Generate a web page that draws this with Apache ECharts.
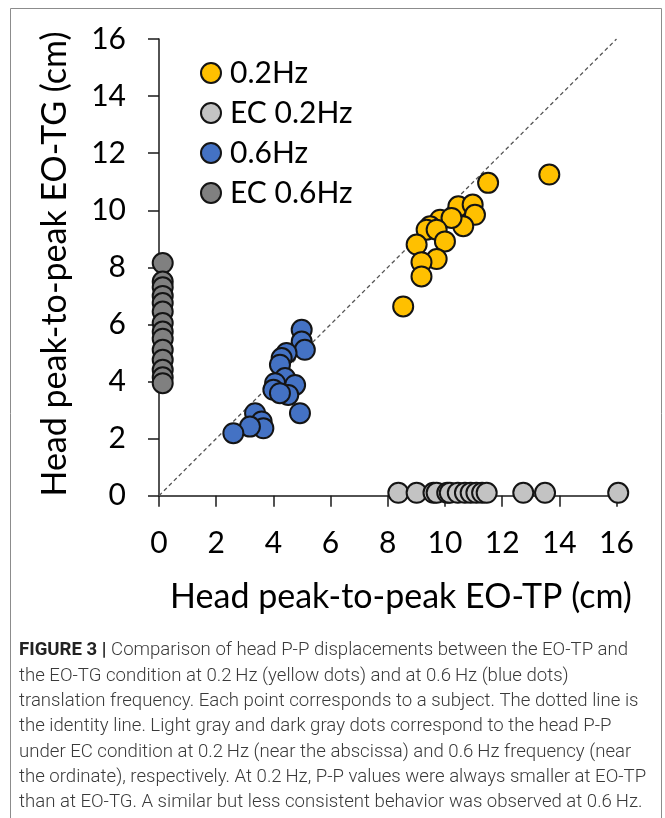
<!DOCTYPE html>
<html>
<head>
<meta charset="utf-8">
<title>Head P-P displacement: EO-TP vs EO-TG</title>
<script src="https://cdn.jsdelivr.net/npm/echarts@6/dist/echarts.min.js"></script>
<style>
  html, body { margin: 0; padding: 0; background: #fff; }
  #chart { width: 665px; height: 818px; }
</style>
</head>
<body>
<div id="chart"></div>
<script>
// Head peak-to-peak displacement (cm), one point per subject
const tp02 = [13.65, 11.51, 10.47, 10.97, 11.05, 10.64, 9.83, 10.23, 9.48, 9.36, 9.71, 10.0, 9.01, 9.71, 9.18, 9.18, 8.54];
const tg02 = [11.25, 10.96, 10.14, 10.2, 9.84, 9.44, 9.67, 9.73, 9.44, 9.32, 9.32, 8.91, 8.8, 8.29, 8.18, 7.68, 6.63];

const tp06 = [4.99, 4.99, 5.1, 4.46, 4.29, 4.23, 4.41, 4.06, 4.0, 4.76, 4.52, 4.23, 4.93, 3.36, 3.59, 3.65, 3.18, 2.6];
const tg06 = [5.81, 5.40, 5.11, 5.0, 4.82, 4.59, 4.12, 3.94, 3.71, 3.88, 3.53, 3.59, 2.89, 2.89, 2.6, 2.36, 2.42, 2.19];

// eyes-closed trials: 0.2 Hz plotted along the abscissa, 0.6 Hz along the ordinate
const ec02 = [8.37, 9.01, 9.6, 9.71, 10.08, 10.17, 10.45, 10.7, 10.9, 11.1, 11.3, 11.46, 12.74, 13.5, 16.06];
const ec02Level = 0.1;
const ec06 = [8.15, 7.5, 7.3, 7.0, 6.75, 6.45, 6.05, 5.75, 5.5, 5.11, 4.76, 4.41, 4.15, 3.94];
const ec06Level = 0.13;

const identity = [[0, 0], [16, 16]];
const seriesNames = ['0.2Hz', 'EC 0.2Hz', '0.6Hz', 'EC 0.6Hz'];
const axisTicks = [0, 2, 4, 6, 8, 10, 12, 14, 16];

const xTitle = 'Head peak-to-peak EO-TP (cm)';
const yTitle = 'Head peak-to-peak EO-TG (cm)';
const captionLines = [
  '{b|FIGURE 3 |} Comparison of head P-P displacements between the EO-TP and',
  'the EO-TG condition at 0.2\u2009Hz (yellow dots) and at 0.6\u2009Hz (blue dots)',
  'translation frequency. Each point corresponds to a subject. The dotted line is',
  'the identity line. Light gray and dark gray dots correspond to the head P-P',
  'under EC condition at 0.2\u2009Hz (near the abscissa) and 0.6\u2009Hz frequency (near',
  'the ordinate), respectively. At 0.2\u2009Hz, P-P values were always smaller at EO-TP',
  'than at EO-TG. A similar but less consistent behavior was observed at 0.6\u2009Hz.'
];

const zip = (xs, ys) => xs.map((x, i) => [x, ys[i]]);
const FONT = 'Lato, "Open Sans", sans-serif';
const CAPTION_FONT = 'Roboto, "Noto Sans", sans-serif';
const dot = (color) => ({ color: color, borderColor: '#141414', borderWidth: 2, opacity: 1 });

const chart = echarts.init(document.getElementById('chart'), null, { renderer: 'canvas' });

const axisCommon = {
  type: 'value',
  min: 0,
  max: 16,
  interval: 2,
  splitLine: { show: false },
  axisLine: { show: true, onZero: false, lineStyle: { color: '#1a1a1a', width: 1.5 } },
  axisTick: { show: true, inside: false, length: 11, lineStyle: { color: '#1a1a1a', width: 1.5 } },
  axisLabel: {
    color: '#000', fontFamily: FONT, fontSize: 30, margin: 33,
    formatter: (v) => (axisTicks.indexOf(v) >= 0 ? String(v) : '')
  }
};

const scatterCommon = { type: 'scatter', symbolSize: 20, clip: false };

chart.setOption({
  animation: false,
  backgroundColor: '#fff',
  grid: { left: 159, right: 48.5, top: 39, bottom: 322.3, containLabel: false },
  xAxis: axisCommon,
  yAxis: axisCommon,
  legend: {
    data: seriesNames,
    orient: 'vertical',
    left: 195,
    top: 53,
    itemWidth: 22,
    itemHeight: 20,
    itemGap: 10,
    icon: 'circle',
    textStyle: { fontFamily: FONT, fontSize: 30, color: '#000', padding: [0, 0, 0, 3] },
    selectedMode: false
  },
  series: [
    {
      type: 'line',
      name: 'identity',
      data: identity,
      symbol: 'none',
      silent: true,
      z: 1,
      lineStyle: { color: '#555', width: 1.3, type: [4, 3] }
    },
    Object.assign({}, scatterCommon, {
      name: seriesNames[1], z: 2,
      data: ec02.map((x) => [x, ec02Level]),
      itemStyle: dot('#C3C3C3')
    }),
    Object.assign({}, scatterCommon, {
      name: seriesNames[3], z: 2,
      data: ec06.map((y) => [ec06Level, y]),
      itemStyle: dot('#808080')
    }),
    Object.assign({}, scatterCommon, {
      name: seriesNames[2], z: 3,
      data: zip(tp06, tg06),
      itemStyle: dot('#4472C4')
    }),
    Object.assign({}, scatterCommon, {
      name: seriesNames[0], z: 3,
      data: zip(tp02, tg02),
      itemStyle: dot('#FFC000')
    })
  ],
  graphic: [
    {
      type: 'rect', silent: true, z: 0,
      shape: { x: 10.5, y: 8.5, width: 651, height: 840 },
      style: { fill: 'none', stroke: '#8c8c8c', lineWidth: 1 }
    },
    {
      type: 'text', silent: true,
      x: 401, y: 597,
      style: {
        text: xTitle, fill: '#000', align: 'center', verticalAlign: 'middle',
        font: '34px ' + FONT
      }
    },
    {
      type: 'text', silent: true,
      x: 55, y: 264, rotation: Math.PI / 2,
      style: {
        text: yTitle, fill: '#000', align: 'center', verticalAlign: 'middle',
        font: '34px ' + FONT
      }
    },
    {
      type: 'text', silent: true,
      x: 19, y: 638,
      style: {
        text: captionLines.join('\n'),
        fill: '#3a3a3a',
        font: '300 18.6px ' + CAPTION_FONT,
        lineHeight: 25.3,
        align: 'left', verticalAlign: 'top',
        rich: {
          b: { font: 'bold 18.6px ' + CAPTION_FONT, fill: '#222', lineHeight: 25.3 }
        }
      }
    }
  ]
});
</script>
</body>
</html>
